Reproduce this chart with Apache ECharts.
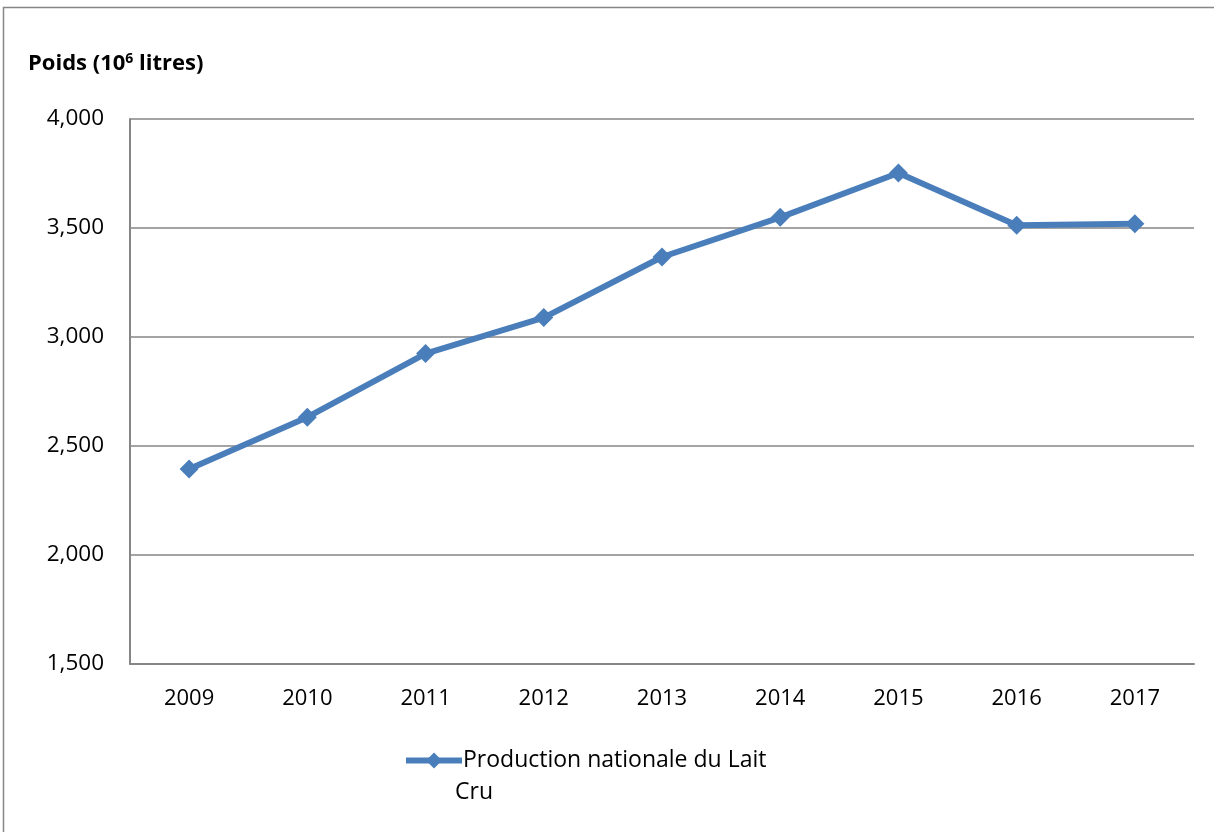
<!DOCTYPE html>
<html>
<head>
<meta charset="utf-8">
<script src="https://cdn.jsdelivr.net/npm/echarts@6/dist/echarts.min.js"></script>
<style>
html,body{margin:0;padding:0;background:#fff;}
#chart{width:1214px;height:832px;}
</style>
</head>
<body>
<div id="chart"></div>
<script>
const categories = ['2009','2010','2011','2012','2013','2014','2015','2016','2017'];
const productionValues = [2394, 2632, 2924, 3089, 3367, 3549, 3752, 3513, 3520];
const seriesName = 'Production nationale du Lait Cru';
const yTicks = { min: 1500, max: 4000, interval: 500 };

const FONT = '"Open Sans", Lato, sans-serif';
const chart = echarts.init(document.getElementById('chart'));
chart.setOption({
  backgroundColor: '#fff',
  animation: false,
  grid: { left: 130, right: 20, top: 119, bottom: 168, containLabel: false },
  xAxis: {
    type: 'category',
    data: categories,
    boundaryGap: true,
    axisLine: { lineStyle: { color: '#868686', width: 2 } },
    axisTick: { show: false },
    axisLabel: { color: '#000', fontSize: 22, fontFamily: FONT, margin: 24 }
  },
  yAxis: {
    type: 'value',
    min: yTicks.min, max: yTicks.max, interval: yTicks.interval,
    axisLine: { show: true, lineStyle: { color: '#868686', width: 2 } },
    axisTick: { show: false },
    splitLine: { lineStyle: { color: '#868686', width: 1.5 } },
    axisLabel: {
      color: '#000', fontSize: 22.5, fontFamily: FONT, margin: 26,
      formatter: v => v.toLocaleString('en-US')
    }
  },
  legend: {
    left: 398, top: 744,
    itemWidth: 56, itemHeight: 20, itemGap: 0,
    lineStyle: { width: 6 },
    textStyle: { color: '#000', fontSize: 23, fontFamily: FONT, padding: [0,0,0,-4] },
    formatter: () => 'Production nationale du Lait',
    data: [{ name: seriesName }]
  },
  series: [{
    name: seriesName,
    type: 'line',
    data: productionValues,
    symbol: 'diamond',
    symbolSize: 19,
    lineStyle: { color: '#4A7EBB', width: 6 },
    itemStyle: { color: '#4A7EBB' }
  }],
  graphic: [
    { type: 'rect', shape: { x: 3.5, y: 7.5, width: 1400, height: 1000 },
      style: { fill: null, stroke: '#868686', lineWidth: 1.5 }, silent: true },
    { type: 'text', left: 28, top: 52,
      style: {
        text: '{b|Poids (10}{s|6}{b| litres)}',
        rich: {
          b: { fontSize: 22, fontWeight: 'bold', fontFamily: FONT, fill: '#000', verticalAlign: 'bottom' },
          s: { fontSize: 14, fontWeight: 'bold', fontFamily: FONT, fill: '#000', verticalAlign: 'top', padding: [0,0,9,0] }
        }
      } },
    { type: 'text', left: 455, top: 781,
      style: { text: 'Cru', fontSize: 23, fontFamily: FONT, fill: '#000' } }
  ]
});
</script>
</body>
</html>
